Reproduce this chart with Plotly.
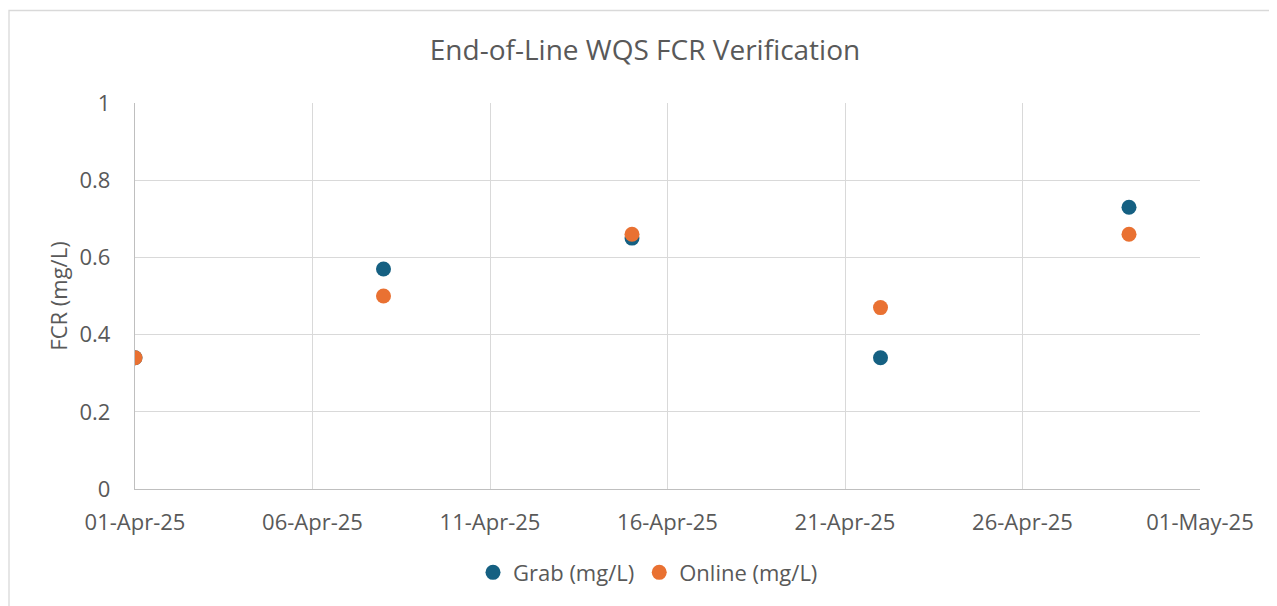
import plotly.graph_objects as go

dates = ["2025-04-01", "2025-04-08", "2025-04-15", "2025-04-22", "2025-04-29"]
grab = [0.34, 0.57, 0.65, 0.34, 0.73]
online = [0.34, 0.50, 0.66, 0.47, 0.66]

FONT = "Open Sans, Roboto, sans-serif"
TXT = "#595959"

# page body has an 8px margin; compensate
W, H = 1269, 598
L, T = 127, 95
PW, PH = 1065, 388

fig = go.Figure()
fig.add_trace(go.Scatter(x=dates, y=grab, mode="markers", name="Grab (mg/L)",
                         marker=dict(color="#156082", size=15, line=dict(width=0))))
fig.add_trace(go.Scatter(x=dates, y=online, mode="markers", name="Online (mg/L)",
                         marker=dict(color="#E97132", size=15, line=dict(width=0))))

fig.update_layout(
    width=W, height=H,
    margin=dict(l=L, r=W - L - PW, t=T, b=H - T - PH),
    paper_bgcolor="white", plot_bgcolor="white",
    font=dict(family=FONT, color=TXT, size=22),
    title=dict(text="End-of-Line WQS FCR Verification", x=(645 - 8) / W, xanchor="center",
               y=1 - (50 - 8) / H, yanchor="middle", font=dict(size=28, color=TXT)),
    showlegend=True,
    legend=dict(orientation="h", x=(648 - 8 - L) / PW, xanchor="center",
                y=(491 - 575) / PH, yanchor="middle",
                font=dict(size=22, color=TXT), itemwidth=30),
    xaxis=dict(type="date", range=["2025-04-01", "2025-05-01"], dtick=5 * 86400000,
               tick0="2025-04-01", tickformat="%d-%b-%y", showgrid=True, gridcolor="#d9d9d9",
               gridwidth=1.3, showline=True, linecolor="#bfbfbf", linewidth=1.3,
               ticks="", ticklabelstandoff=13, zeroline=False),
    yaxis=dict(range=[0, 1], dtick=0.2, showgrid=True, gridcolor="#d9d9d9", gridwidth=1.3,
               showline=True, linecolor="#bfbfbf", linewidth=1.3, ticks="",
               ticklabelstandoff=19, zeroline=False,
               title=dict(text="FCR (mg/L)", font=dict(size=22, color=TXT), standoff=5)),
    shapes=[dict(type="rect", xref="paper", yref="paper",
                 x0=(9 - 8 - L) / PW, x1=(1300 - 8 - L) / PW,
                 y0=(491 - 640) / PH, y1=(491 - 10) / PH,
                 line=dict(color="#d9d9d9", width=1.3), fillcolor="rgba(0,0,0,0)", layer="below")],
)

fig.write_html("out.html")
